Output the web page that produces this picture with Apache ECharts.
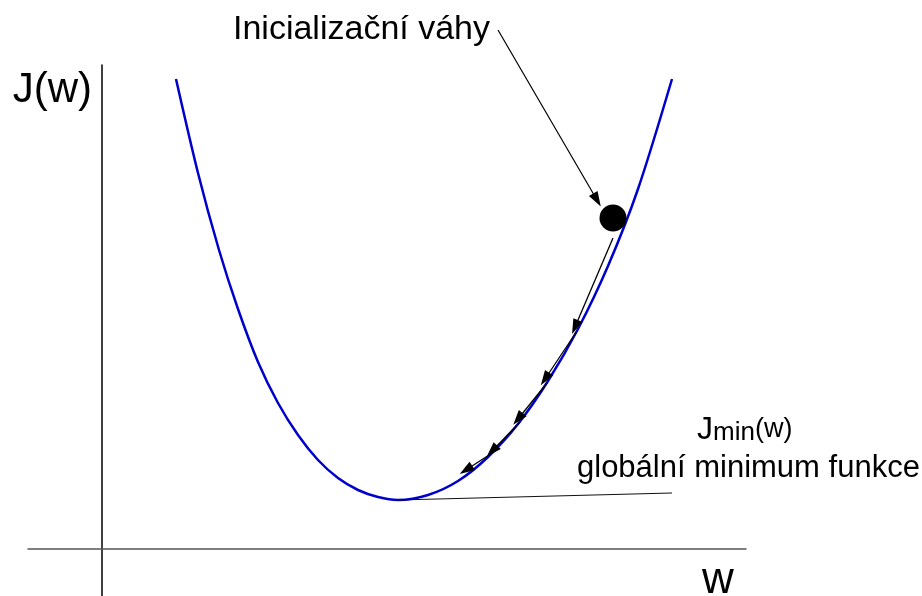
<!DOCTYPE html>
<html>
<head>
<meta charset="utf-8">
<script src="https://cdn.jsdelivr.net/npm/echarts@6/dist/echarts.min.js"></script>
<style>html,body{margin:0;padding:0;background:#fff}#c{width:922px;height:596px}</style>
</head>
<body>
<div id="c"></div>
<script>
// Cost curve J(w)
const curveW = [0.74, 0.96, 1.17, 1.36, 1.56, 1.76, 1.96, 2.16, 2.36, 2.56, 2.76, 2.96, 3.26, 3.56, 3.86, 4.16, 4.46, 4.76, 5.06, 5.36, 5.70];
const curveJ = [4.70, 3.76, 2.99, 2.40, 1.87, 1.46, 1.14, 0.89, 0.71, 0.59, 0.52, 0.49, 0.54, 0.68, 0.92, 1.25, 1.68, 2.20, 2.83, 3.60, 4.70];
// Initial weights point
const initPoint = [5.11, 3.31];
// Gradient descent steps (start -> end)
const stepStart = [[5.11, 3.11], [4.75, 2.18], [4.45, 1.66], [4.18, 1.27], [3.87, 0.94]];
const stepEnd   = [[4.73, 2.22], [4.43, 1.70], [4.16, 1.30], [3.90, 0.98], [3.64, 0.79]];
// Annotation pointers
const initPointer = [[3.96, 5.19], [4.95, 3.49]];
const minPointer = [[2.96, 0.49], [5.70, 0.56]];
// Texts
const yName = 'J(w)';
const xName = 'w';
const initLabel = 'Inicializační váhy';
const minLabel2 = 'globální minimum funkce';

const FONT = 'Liberation Sans, Arial, sans-serif';
const chart = echarts.init(document.getElementById('c'));
const curve = curveW.map((w, i) => [w, curveJ[i]]);
const stepLines = stepStart.map((s, i) => [{coord: s}, {coord: stepEnd[i]}]);

const hiddenAxis = {show: false, type: 'value'};

chart.setOption({
  animation: false,
  backgroundColor: '#fff',
  grid: [
    {left: 28, right: 176, top: 65, bottom: 0, containLabel: false, outerBoundsMode: 'none'},
    {left: 28, right: 176, top: 0, bottom: 0, containLabel: false, outerBoundsMode: 'none'}
  ],
  xAxis: [{
    type: 'value', min: -0.74, max: 6.44, gridIndex: 0,
    axisLine: {onZero: true, lineStyle: {color: '#555', width: 1.5}},
    axisTick: {show: false}, axisLabel: {show: false}, splitLine: {show: false},
    name: xName, nameLocation: 'end', nameGap: -28,
    nameTextStyle: {fontFamily: FONT, fontSize: 44, color: '#000', align: 'center', verticalAlign: 'top', padding: [10, 0, 0, 0]}
  }, Object.assign({}, hiddenAxis, {gridIndex: 1, min: -0.74, max: 6.44})],
  yAxis: [{
    type: 'value', min: -0.47, max: 4.84, gridIndex: 0,
    axisLine: {onZero: true, lineStyle: {color: '#000', width: 1.5}},
    axisTick: {show: false}, axisLabel: {show: false}, splitLine: {show: false},
    name: yName, nameLocation: 'end', nameGap: -25,
    nameTextStyle: {fontFamily: FONT, fontSize: 42, color: '#000', align: 'right', verticalAlign: 'middle', padding: [0, 10, 0, 0]}
  }, Object.assign({}, hiddenAxis, {gridIndex: 1, min: -0.47, max: 5.49})],
  series: [
    {
      type: 'line', data: curve, smooth: 0.3, showSymbol: false, clip: false,
      lineStyle: {color: '#0000cc', width: 2.5}, z: 3,
      markLine: {
        silent: true, symbol: ['none', 'none'], label: {show: false},
        lineStyle: {color: '#111', width: 1.2, type: 'solid'},
        data: [[{coord: minPointer[0]}, {coord: minPointer[1]}]]
      }
    },
    {
      type: 'line', data: [], clip: false,
      markLine: {
        silent: true, symbol: ['none', 'triangle'], symbolSize: [10, 15], label: {show: false},
        lineStyle: {color: '#000', width: 1.3, type: 'solid'},
        itemStyle: {color: '#000'},
        data: stepLines
      }
    },
    {
      type: 'line', data: [], clip: false, xAxisIndex: 1, yAxisIndex: 1,
      markLine: {
        silent: true, symbol: ['none', 'triangle'], symbolSize: [10, 15], label: {show: false},
        lineStyle: {color: '#000', width: 1.2, type: 'solid'},
        data: [[{coord: initPointer[0]}, {coord: initPointer[1]}]]
      }
    },
    {
      type: 'scatter', data: [initPoint], symbolSize: 27, clip: false,
      itemStyle: {color: '#000', opacity: 1}, z: 5
    }
  ],
  graphic: [
    {type: 'text', left: 233, top: 13, style: {text: initLabel, font: '34px ' + FONT, fill: '#000'}},
    {type: 'text', left: 697, top: 414, style: {
      text: '{j|J}{s|min}{w|(w)}', fill: '#000',
      rich: {
        j: {fontFamily: FONT, fontSize: 32, verticalAlign: 'bottom'},
        s: {fontFamily: FONT, fontSize: 26, verticalAlign: 'bottom'},
        w: {fontFamily: FONT, fontSize: 27, verticalAlign: 'bottom', padding: [0, 0, 3, 0]}
      }
    }},
    {type: 'text', left: 577, top: 453, style: {text: minLabel2, font: '31px ' + FONT, fill: '#000'}}
  ]
});
</script>
</body>
</html>
